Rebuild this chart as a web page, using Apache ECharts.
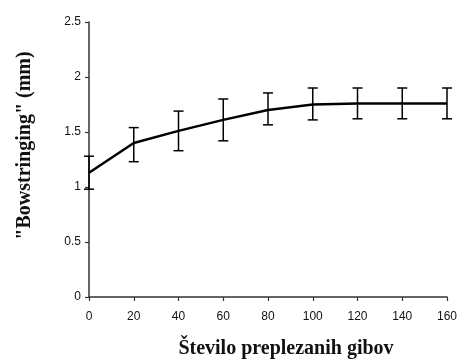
<!DOCTYPE html>
<html>
<head>
<meta charset="utf-8">
<script src="https://cdn.jsdelivr.net/npm/echarts@6/dist/echarts.min.js"></script>
<style>
  html, body { margin: 0; padding: 0; background: #fff; }
  #chart { width: 459px; height: 360px; }
</style>
</head>
<body>
<div id="chart"></div>
<script>
// podatki odčitani s slike
var xVals = [0, 20, 40, 60, 80, 100, 120, 140, 160]
var meanVals = [1.13, 1.40, 1.51, 1.61, 1.70, 1.75, 1.76, 1.76, 1.76]
var highVals = [1.28, 1.54, 1.69, 1.80, 1.855, 1.90, 1.90, 1.90, 1.90]
var lowVals = [0.98, 1.23, 1.33, 1.42, 1.565, 1.61, 1.62, 1.62, 1.62]

var lineData = xVals.map(function (x, i) { return [x, meanVals[i]] })
var errData = xVals.map(function (x, i) { return [x, lowVals[i], highVals[i]] })

var myChart = echarts.init(document.getElementById('chart'))
var option = {
  animation: false,
  grid: {
    left: 89,
    right: 12,
    top: 22,
    bottom: 63,
    containLabel: false,
    outerBoundsMode: 'none',
  },
  xAxis: {
    type: 'value',
    min: 0,
    max: 160,
    interval: 20,
    name: 'Število preplezanih gibov',
    nameLocation: 'middle',
    nameGap: 42,
    nameTextStyle: {
      fontFamily: 'Liberation Serif',
      fontWeight: 'bold',
      fontSize: 20,
      color: '#111',
      padding: [0, 0, 0, 36], // naslov je v izvirniku zamaknjen desno
    },
    axisLine: { lineStyle: { color: '#333', width: 1.5 } },
    axisTick: { length: 4, lineStyle: { color: '#333', width: 1.2 } },
    axisLabel: {
      margin: 14,
      fontFamily: 'Liberation Sans',
      fontSize: 12,
      color: '#111',
    },
    splitLine: { show: false },
  },
  yAxis: {
    type: 'value',
    min: 0,
    max: 2.5,
    interval: 0.5,
    name: '"Bowstringing" (mm)',
    nameLocation: 'middle',
    nameGap: 54,
    nameTextStyle: {
      fontFamily: 'Liberation Serif',
      fontWeight: 'bold',
      fontSize: 20,
      color: '#111',
      padding: [0, 0, 0, 28],
    },
    axisLine: { show: true, lineStyle: { color: '#333', width: 1.5 } },
    axisTick: { show: true, length: 4, lineStyle: { color: '#333', width: 1.2 } },
    axisLabel: {
      margin: 8,
      fontFamily: 'Liberation Sans',
      fontSize: 12,
      color: '#111',
    },
    splitLine: { show: false },
  },
  series: [
    {
      type: 'line',
      data: lineData,
      showSymbol: false,
      lineStyle: { color: '#000', width: 2.5 },
      z: 2,
    },
    {
      type: 'custom',
      data: errData,
      z: 3,
      renderItem: function (params, api) {
        var x = api.value(0)
        var lo = api.coord([x, api.value(1)])
        var hi = api.coord([x, api.value(2)])
        var w = 5
        var style = { stroke: '#000', lineWidth: 1.5 }
        return {
          type: 'group',
          children: [
            { type: 'line', shape: { x1: lo[0], y1: lo[1], x2: hi[0], y2: hi[1] }, style: style },
            { type: 'line', shape: { x1: hi[0] - w, y1: hi[1], x2: hi[0] + w, y2: hi[1] }, style: style },
            { type: 'line', shape: { x1: lo[0] - w, y1: lo[1], x2: lo[0] + w, y2: lo[1] }, style: style },
          ],
        }
      },
    },
  ],
}
myChart.setOption(option, true)
</script>
</body>
</html>
